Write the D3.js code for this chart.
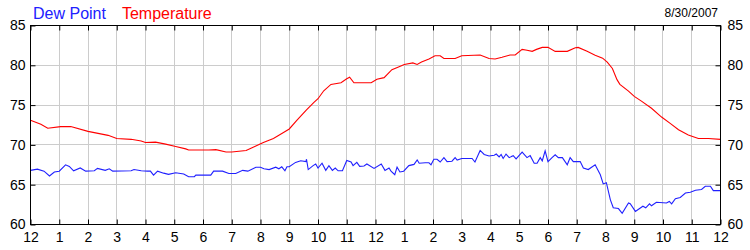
<!DOCTYPE html>
<html>
<head>
<meta charset="utf-8">
<script src="https://cdn.jsdelivr.net/npm/d3@7"></script>
<style>
  body { margin: 0; background: #fff; }
  svg { display: block; font-family: "Liberation Sans", Arial, sans-serif; }
</style>
</head>
<body>
<svg id="chart" width="750" height="250"></svg>
<script>
// hour of day (0 = midnight), degrees F
const temperature = [
  [0,73.1],[0.36,72.6],[0.6,72.1],[1.05,72.3],[1.4,72.3],[2.0,71.7],[2.7,71.2],[3.0,70.8],
  [3.5,70.7],[3.85,70.5],[4.0,70.3],[4.35,70.35],[4.7,70.1],[5.05,69.8],[5.4,69.5],[5.5,69.35],
  [6.2,69.35],[6.45,69.4],[6.8,69.1],[7.0,69.1],[7.5,69.3],[7.8,69.8],[8.1,70.3],[8.45,70.8],
  [8.8,71.55],[9.0,72.0],[9.27,73.1],[9.6,74.4],[9.85,75.3],[10.0,75.8],[10.2,76.8],[10.45,77.6],
  [10.8,77.8],[11.0,78.3],[11.1,78.5],[11.25,77.8],[11.85,77.8],[12.05,78.25],[12.3,78.45],
  [12.57,79.45],[12.8,79.8],[13.0,80.1],[13.3,80.3],[13.45,80.1],[13.6,80.4],[13.86,80.8],
  [14.07,81.2],[14.25,81.2],[14.38,80.85],[14.77,80.85],[15.0,81.2],[15.64,81.3],[15.95,80.85],
  [16.16,80.8],[16.4,81.0],[16.68,81.3],[16.86,81.3],[17.1,82.0],[17.27,81.9],[17.45,81.75],
  [17.6,82.0],[17.8,82.25],[18.0,82.25],[18.25,81.75],[18.67,81.75],[18.95,82.2],[19.05,82.25],
  [19.36,81.75],[19.64,81.25],[19.9,80.9],[20.06,80.4],[20.24,79.6],[20.4,78.2],[20.5,77.6],
  [20.8,76.75],[21.0,76.1],[21.25,75.5],[21.6,74.6],[21.95,73.5],[22.25,72.7],[22.54,71.9],
  [22.88,71.25],[23.23,70.8],[23.58,70.8],[24,70.7]
];

const dewPoint = [
  [0,66.8],[0.24,66.95],[0.47,66.7],[0.66,66.1],[0.83,66.6],[1.0,66.7],[1.22,67.5],[1.35,67.3],
  [1.5,66.75],[1.73,67.1],[1.92,66.7],[2.22,66.75],[2.33,67.05],[2.6,66.8],[2.74,67.0],[2.86,66.7],
  [3.5,66.75],[3.6,66.9],[3.85,66.75],[4.07,66.7],[4.17,66.7],[4.28,66.2],[4.42,66.7],[4.63,66.45],
  [4.8,66.3],[5.05,66.5],[5.33,66.35],[5.5,66.0],[5.7,66.0],[5.75,66.2],[6.27,66.2],[6.37,66.7],
  [6.68,66.7],[6.9,66.4],[7.14,66.4],[7.38,66.8],[7.56,66.7],[7.84,67.2],[8.0,67.2],[8.12,67.0],
  [8.3,66.9],[8.53,67.2],[8.64,67.0],[8.74,67.25],[8.85,66.75],[8.92,67.25],[9.0,67.25],[9.22,67.8],
  [9.4,68.0],[9.58,67.9],[9.6,68.2],[9.66,66.9],[9.83,67.4],[9.92,67.6],[10.0,67.1],[10.14,67.7],
  [10.27,66.8],[10.38,67.4],[10.5,66.8],[10.6,67.1],[10.7,66.75],[10.85,66.75],[11.0,68.05],
  [11.15,67.85],[11.22,67.4],[11.35,67.8],[11.45,67.3],[11.6,67.35],[11.7,67.6],[11.95,67.05],
  [12.2,67.6],[12.33,66.8],[12.47,67.1],[12.54,66.7],[12.67,66.25],[12.75,67.2],[12.85,66.6],
  [12.98,66.7],[13.16,67.4],[13.34,67.55],[13.45,68.1],[13.52,67.7],[13.73,67.75],[13.86,67.75],
  [13.93,67.5],[14.03,68.2],[14.14,68.2],[14.25,67.85],[14.38,68.4],[14.49,67.9],[14.66,67.95],
  [14.77,68.4],[14.84,68.1],[15.0,68.3],[15.36,68.3],[15.46,67.85],[15.64,69.3],[15.78,68.8],
  [15.95,68.6],[16.13,68.7],[16.2,68.85],[16.3,68.5],[16.37,68.8],[16.44,68.3],[16.54,68.85],
  [16.65,68.4],[16.79,68.65],[16.89,68.25],[17.1,69.1],[17.27,68.4],[17.38,68.65],[17.52,67.7],
  [17.62,67.7],[17.73,68.4],[17.8,68.0],[17.9,69.25],[18.0,67.9],[18.14,68.4],[18.25,68.75],
  [18.36,68.4],[18.5,68.4],[18.67,67.5],[18.77,68.4],[18.88,67.9],[19.12,67.9],[19.23,67.1],
  [19.4,66.9],[19.64,67.5],[19.82,66.25],[19.92,65.1],[20.03,65.25],[20.17,63.1],[20.27,62.1],
  [20.45,62.0],[20.58,61.4],[20.8,62.7],[20.86,62.6],[21.04,61.65],[21.3,62.3],[21.4,62.1],
  [21.53,62.6],[21.6,62.35],[21.77,62.8],[22.12,62.7],[22.22,62.9],[22.3,62.6],[22.43,63.25],
  [22.6,63.4],[22.78,63.95],[22.95,64.05],[23.13,64.3],[23.34,64.4],[23.47,64.8],[23.65,64.8],
  [23.75,64.25],[24,64.25]
];

const hourLabels = ["12","1","2","3","4","5","6","7","8","9","10","11",
                    "12","1","2","3","4","5","6","7","8","9","10","11","12"];
const yTicks = [60, 65, 70, 75, 80, 85];
const legendItems = [{ name: "Dew Point", color: "#2020ff" }, { name: "Temperature", color: "#ff0000" }];
const dateLabel = "8/30/2007";

const svg = d3.select("#chart");
const plotLeft = 30.5, plotRight = 720.5, plotTop = 25.5, plotBottom = 224.5;

const x = d3.scaleLinear().domain([0, 24]).range([plotLeft, plotRight]);
const y = d3.scaleLinear().domain([60, 85]).range([plotBottom, plotTop]);
const snap = v => Math.round(v - 0.5) + 0.5;

// grid
const grid = svg.append("g");
grid.selectAll(".vg").data(d3.range(1, 24)).enter().append("line")
    .attr("x1", d => snap(x(d))).attr("x2", d => snap(x(d)))
    .attr("y1", plotTop).attr("y2", plotBottom)
    .attr("stroke", "#cccccc");
grid.selectAll(".hg").data(yTicks.slice(1, -1)).enter().append("line")
    .attr("x1", plotLeft).attr("x2", plotRight)
    .attr("y1", d => snap(y(d))).attr("y2", d => snap(y(d)))
    .attr("stroke", "#cccccc");

// series
const line = d3.line().x(d => x(d[0])).y(d => y(d[1]));
svg.append("path").datum(temperature).attr("d", line)
    .attr("fill", "none").attr("stroke", "#ff0000").attr("stroke-width", 1.1);
svg.append("path").datum(dewPoint).attr("d", line)
    .attr("fill", "none").attr("stroke", "#2020ff").attr("stroke-width", 1.1);

// axes with inward ticks
const xBottom = d3.axisBottom(x).tickValues(d3.range(0, 25)).tickSize(-5).tickPadding(8)
    .tickFormat((d, i) => hourLabels[i]);
const xTop = d3.axisTop(x).tickValues(d3.range(0, 25)).tickSize(-5).tickFormat("");
const yLeft = d3.axisLeft(y).tickValues(yTicks).tickSize(-5).tickPadding(5);
const yRight = d3.axisRight(y).tickValues(yTicks).tickSize(-5).tickPadding(7);

function styleAxis(g) {
  g.select(".domain").remove();
  g.selectAll(".tick line").attr("stroke", "#000");
  g.selectAll(".tick text").attr("fill", "#000").style("font-size", "14px")
      .style("font-family", "'Liberation Sans', Arial, sans-serif");
}

svg.append("g").attr("transform", `translate(0,${plotBottom})`).call(xBottom).call(styleAxis);
svg.append("g").attr("transform", `translate(0,${plotTop})`).call(xTop).call(styleAxis);
svg.append("g").attr("transform", `translate(${plotLeft},0)`).call(yLeft).call(styleAxis);
svg.append("g").attr("transform", `translate(${plotRight},0)`).call(yRight).call(styleAxis);

// frame
svg.append("rect")
    .attr("x", plotLeft).attr("y", plotTop)
    .attr("width", plotRight - plotLeft).attr("height", plotBottom - plotTop)
    .attr("fill", "none").attr("stroke", "#000");

// legend
let lx = 33;
legendItems.forEach(item => {
  const t = svg.append("text")
      .attr("x", lx).attr("y", 19)
      .attr("fill", item.color)
      .style("font-size", "16px")
      .text(item.name);
  lx += t.node().getComputedTextLength() + 16;
});

svg.append("text")
    .attr("x", 718).attr("y", 17)
    .attr("text-anchor", "end")
    .attr("fill", "#000")
    .style("font-size", "12px")
    .text(dateLabel);
</script>
</body>
</html>
